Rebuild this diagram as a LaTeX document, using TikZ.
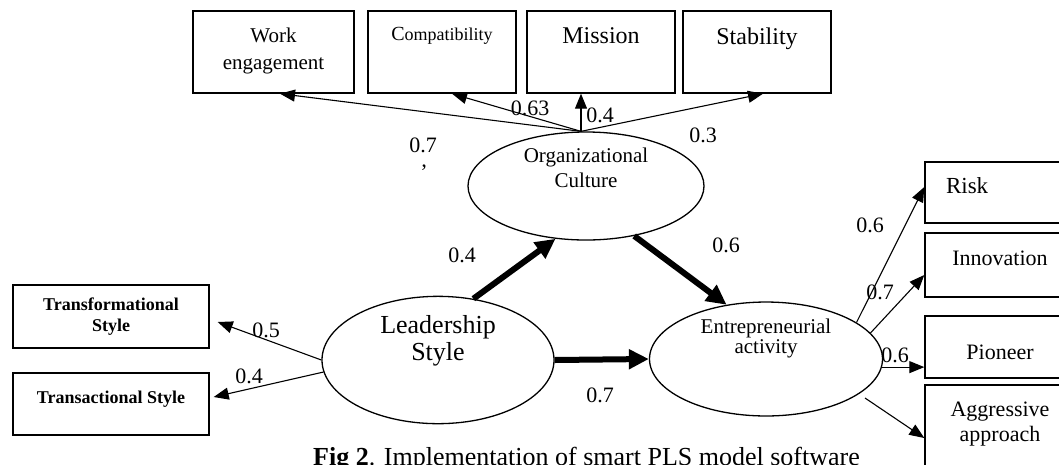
\documentclass[tikz,border=0pt]{standalone}
\usepackage{fontspec}
\setmainfont{Liberation Serif}
\usetikzlibrary{arrows.meta,shapes.geometric,calc}

\tikzset{
    box/.style={draw, line width=1.4pt, inner sep=0pt},
    latent/.style={draw, ellipse, line width=1.3pt, inner sep=0pt, align=center, minimum height=108},
    load/.style={-{Triangle[length=15pt,width=12pt]}, line width=1.1pt},
    effect/.style={-{Triangle[length=20pt,width=19pt]}, line width=6pt},
    coef/.style={inner sep=0pt, font=\fontsize{22}{22}\selectfont},
    toplbl/.style={anchor=north, align=center, inner sep=3pt, yshift=-14pt},
}

\begin{document}
\begin{tikzpicture}[x=1pt, y=-1pt]
        \useasboundingbox (0,0) rectangle (1059,464);
        \clip (0,0) rectangle (1059,464);

        \node[box, minimum width=161, minimum height=82,
            label={[toplbl, font=\fontsize{21}{27}\selectfont]north:Work\\engagement}] (work) at (273.5,52) {};
        \node[box, minimum width=148, minimum height=82,
            label={[toplbl]north:{\fontsize{20}{20}\selectfont C}{\fontsize{18}{18}\selectfont ompatibility}}] (compat) at (442,52) {};
        \node[box, minimum width=148, minimum height=82,
            label={[toplbl, font=\fontsize{24}{24}\selectfont]north:Mission}] (mission) at (601,52) {};
        \node[box, minimum width=148, minimum height=82,
            label={[toplbl, font=\fontsize{24}{24}\selectfont]north:Stability}] (stab) at (757,52) {};

        \node[box, minimum width=196, minimum height=63, align=center,
            font=\fontsize{18}{21}\selectfont\bfseries] (trf) at (111,316.5) {Transformational\\Style};
        \node[box, minimum width=196, minimum height=62, text depth=14pt,
            font=\fontsize{18}{21}\selectfont\bfseries] (trc) at (111,404) {Transactional Style};

        \node[box, minimum height=61, text width=108, inner xsep=21, align=left, text depth=13pt,
            font=\fontsize{23}{23}\selectfont] (risk) at (1000,192.5) {Risk};
        \node[box, minimum width=150, minimum height=64, text depth=14pt,
            font=\fontsize{22}{22}\selectfont] (innov) at (1000,265) {Innovation};
        \node[box, minimum width=150, minimum height=62, text height=25pt,
            font=\fontsize{22}{22}\selectfont] (pion) at (1000,347) {Pioneer};
        \node[box, minimum width=150, minimum height=100,
            label={[toplbl, font=\fontsize{22}{25}\selectfont]north:Aggressive\\approach}] (aggr) at (1000,435) {};

        \node[latent, minimum width=236, text depth=36pt,
            font=\fontsize{21}{25}\selectfont] (org) at (586,186) {Organizational\\Culture};
        \node[latent, minimum width=232, text depth=45pt,
            font=\fontsize{26}{27}\selectfont] (lead) at (438,360) {Leadership\\Style};
        \node[latent, minimum width=233, text depth=46pt,
            font=\fontsize{21}{20}\selectfont] (entr) at (766,359) {Entrepreneurial\\activity};

        \coordinate (orgtop) at ($(org.north)+(-5,0)$);

        \draw[load] (orgtop) -- ($(work.south)+(6.5,0)$);
        \draw[load] (orgtop) -- ($(compat.south)+(10,0)$);
        \draw[load] (orgtop) -- (orgtop |- mission.south);
        \draw[load] (orgtop) -- ($(stab.south)+(6,0)$);

        \draw[load] (lead.west) -- ($(trf.east)+(8,5.5)$);
        \draw[load] (lead.186) -- ($(trc.east)+(4,-7)$);

        \draw[effect] (lead.60) -- (org.240);
        \draw[effect] (org.-46) -- (entr.126);
        \draw[effect] (lead.east) -- (entr.west);

        \draw[load] (entr.22) -- ($(risk.west)+(0,-5.5)$);
        \draw[load] (entr.14) -- ($(innov.west)+(0,10)$);
        \draw[load] (entr.-4) -- (entr.-4 -| pion.west);
        \draw[load] ($(entr.center)+(99,39)$) -- ($(aggr.west)+(0,3)$);

        \node[coef] (cwork) at (423,145) {0.7};
        \node[coef] (ctick) at (424,172) {'};
        \node[coef] (ccompat) at (530,108) {0.63};
        \node[coef] (cmission) at (600,115) {0.4};
        \node[coef] (cstab) at (703,135) {0.3};
        \node[coef] (clead) at (462,255) {0.4};
        \node[coef] (corg) at (726,245) {0.6};
        \node[coef] (cdirect) at (600,395) {0.7};
        \node[coef] (ctrf) at (266,330) {0.5};
        \node[coef] (ctrc) at (249,376) {0.4};
        \node[coef] (crisk) at (870,225) {0.6};
        \node[coef] (cinnov) at (880,292) {0.7};
        \node[coef] (cpion) at (895,355) {0.6};

        \node[anchor=base west, inner sep=0pt, font=\fontsize{26}{26}\selectfont] (caption) at (313,465)
            {\textbf{Fig 2}. Implementation of smart PLS model software};

    \end{tikzpicture}
\end{document}
